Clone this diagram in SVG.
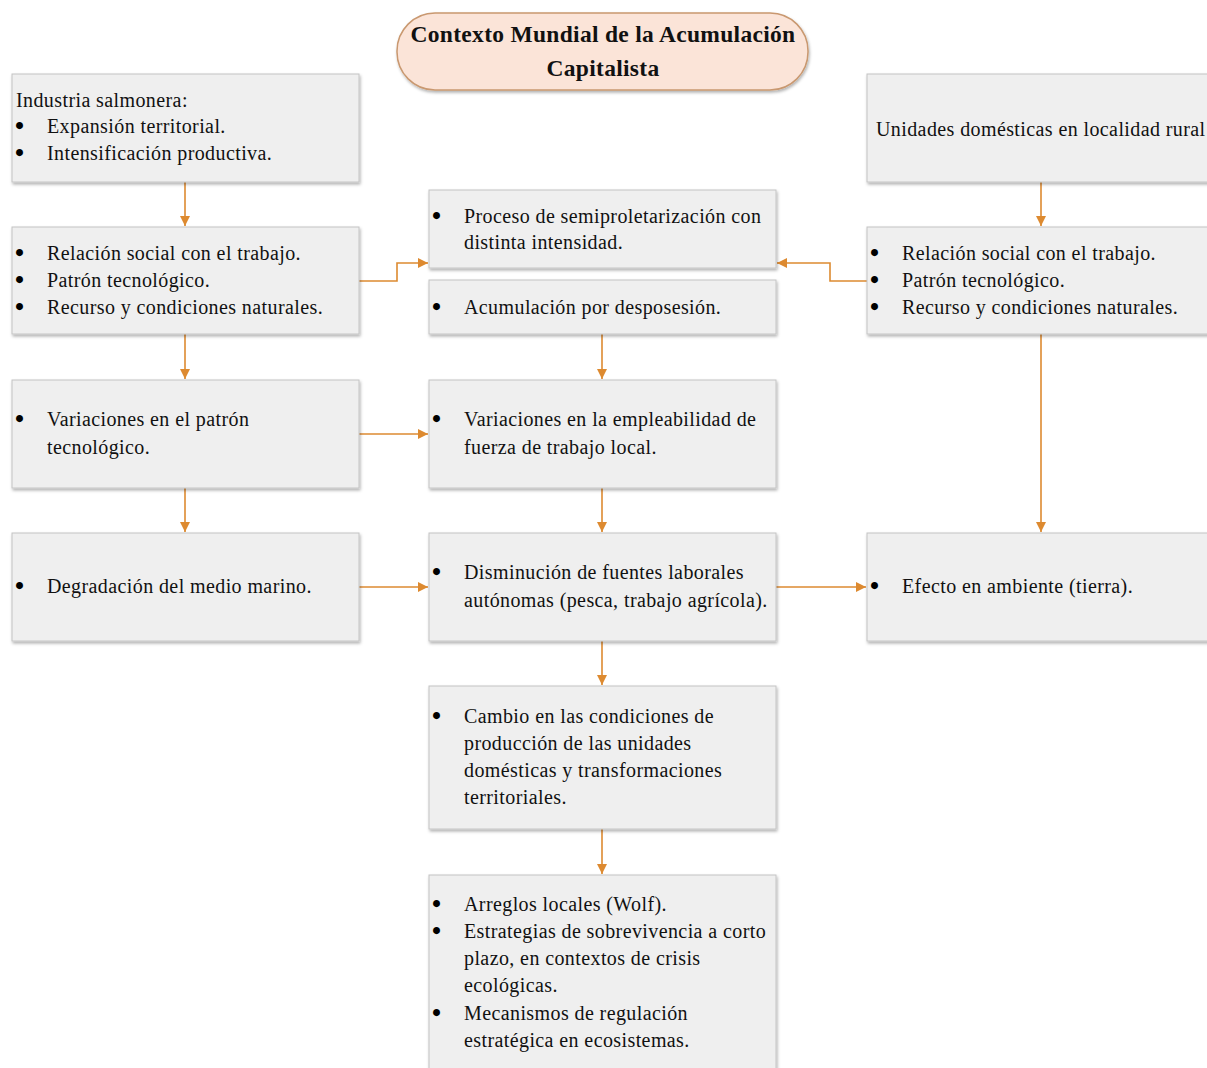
<svg xmlns="http://www.w3.org/2000/svg" width="1207" height="1068" viewBox="0 0 1207 1068">
<style>
.box{fill:#efefef;stroke:#c4c4c4;stroke-width:1;filter:url(#sh)}
.t{font-family:"Liberation Serif","Times New Roman",serif;font-size:20px;letter-spacing:0.4px;fill:#111}
.b{font-family:"Liberation Serif","Times New Roman",serif;font-size:20px;fill:#000;stroke:#000;stroke-width:2.2}
.title{font-family:"Liberation Serif","Times New Roman",serif;font-size:23.5px;letter-spacing:0.3px;font-weight:bold;fill:#111;text-anchor:middle}
.c{fill:none;stroke:#dd8a30;stroke-width:1.6}
</style>
<defs>
<filter id="sh" x="-5%" y="-5%" width="110%" height="115%">
<feDropShadow dx="1" dy="2" stdDeviation="1.5" flood-color="#000" flood-opacity="0.3"/>
</filter>
<marker id="ar" viewBox="0 0 10 10" refX="10" refY="5" markerWidth="10" markerHeight="10" markerUnits="userSpaceOnUse" orient="auto">
<path d="M0,0 L10,5 L0,10 z" fill="#dd8a30"/>
</marker>
</defs>
<rect width="1207" height="1068" fill="#ffffff"/>

<g id="connectors">
<line class="c" x1="185" y1="182" x2="185" y2="226" marker-end="url(#ar)"/>
<line class="c" x1="185" y1="334" x2="185" y2="379" marker-end="url(#ar)"/>
<line class="c" x1="185" y1="488" x2="185" y2="532" marker-end="url(#ar)"/>
<polyline class="c" points="359,281 397,281 397,263 428,263" marker-end="url(#ar)"/>
<polyline class="c" points="867,281 830,281 830,263 777,263" marker-end="url(#ar)"/>
<line class="c" x1="602" y1="334" x2="602" y2="379" marker-end="url(#ar)"/>
<line class="c" x1="359" y1="434" x2="428" y2="434" marker-end="url(#ar)"/>
<line class="c" x1="602" y1="488" x2="602" y2="532" marker-end="url(#ar)"/>
<line class="c" x1="359" y1="587" x2="428" y2="587" marker-end="url(#ar)"/>
<line class="c" x1="776" y1="587" x2="866" y2="587" marker-end="url(#ar)"/>
<line class="c" x1="1041" y1="182" x2="1041" y2="226" marker-end="url(#ar)"/>
<line class="c" x1="1041" y1="334" x2="1041" y2="532" marker-end="url(#ar)"/>
<line class="c" x1="602" y1="641" x2="602" y2="685" marker-end="url(#ar)"/>
<line class="c" x1="602" y1="829" x2="602" y2="874" marker-end="url(#ar)"/>
</g>

<g id="title">
<rect x="397" y="13" width="411" height="77" rx="38" ry="38" fill="#fbe4d8" stroke="#c9986f" stroke-width="1.5" filter="url(#sh)"/>
<text class="title" x="603" y="42">Contexto Mundial de la Acumulación</text>
<text class="title" x="603" y="76">Capitalista</text>
</g>

<g id="L1">
<rect class="box" x="12" y="74" width="347" height="108"/>
<text class="t" x="16" y="107">Industria salmonera:</text>
<text class="b" x="16" y="133">•</text><text class="t" x="47" y="133">Expansión territorial.</text>
<text class="b" x="16" y="160">•</text><text class="t" x="47" y="160">Intensificación productiva.</text>
</g>

<g id="L2">
<rect class="box" x="12" y="227" width="347" height="107"/>
<text class="b" x="16" y="260">•</text><text class="t" x="47" y="260">Relación social con el trabajo.</text>
<text class="b" x="16" y="287">•</text><text class="t" x="47" y="287">Patrón tecnológico.</text>
<text class="b" x="16" y="314">•</text><text class="t" x="47" y="314">Recurso y condiciones naturales.</text>
</g>

<g id="L3">
<rect class="box" x="12" y="380" width="347" height="108"/>
<text class="b" x="16" y="426">•</text><text class="t" x="47" y="426">Variaciones en el patrón</text>
<text class="t" x="47" y="454">tecnológico.</text>
</g>

<g id="L4">
<rect class="box" x="12" y="533" width="347" height="108"/>
<text class="b" x="16" y="593">•</text><text class="t" x="47" y="593">Degradación del medio marino.</text>
</g>

<g id="C1a">
<rect class="box" x="429" y="190" width="347" height="78"/>
<text class="b" x="433" y="223">•</text><text class="t" x="464" y="223">Proceso de semiproletarización con</text>
<text class="t" x="464" y="249">distinta intensidad.</text>
</g>

<g id="C1b">
<rect class="box" x="429" y="280" width="347" height="54"/>
<text class="b" x="433" y="314">•</text><text class="t" x="464" y="314">Acumulación por desposesión.</text>
</g>

<g id="C2">
<rect class="box" x="429" y="380" width="347" height="108"/>
<text class="b" x="433" y="426">•</text><text class="t" x="464" y="426">Variaciones en la empleabilidad de</text>
<text class="t" x="464" y="454">fuerza de trabajo local.</text>
</g>

<g id="C3">
<rect class="box" x="429" y="533" width="347" height="108"/>
<text class="b" x="433" y="579">•</text><text class="t" x="464" y="579">Disminución de fuentes laborales</text>
<text class="t" x="464" y="607">autónomas (pesca, trabajo agrícola).</text>
</g>

<g id="C4">
<rect class="box" x="429" y="686" width="347" height="143"/>
<text class="b" x="433" y="723">•</text><text class="t" x="464" y="723">Cambio en las condiciones de</text>
<text class="t" x="464" y="750">producción de las unidades</text>
<text class="t" x="464" y="777">domésticas y transformaciones</text>
<text class="t" x="464" y="804">territoriales.</text>
</g>

<g id="C5">
<rect class="box" x="429" y="875" width="347" height="200"/>
<text class="b" x="433" y="911">•</text><text class="t" x="464" y="911">Arreglos locales (Wolf).</text>
<text class="b" x="433" y="938">•</text><text class="t" x="464" y="938">Estrategias de sobrevivencia a corto</text>
<text class="t" x="464" y="965">plazo, en contextos de crisis</text>
<text class="t" x="464" y="992">ecológicas.</text>
<text class="b" x="433" y="1020">•</text><text class="t" x="464" y="1020">Mecanismos de regulación</text>
<text class="t" x="464" y="1047">estratégica en ecosistemas.</text>
</g>

<g id="R1">
<rect class="box" x="867" y="74" width="345" height="108"/>
<text class="t" x="876" y="136">Unidades domésticas en localidad rural</text>
</g>

<g id="R2">
<rect class="box" x="867" y="227" width="345" height="107"/>
<text class="b" x="871" y="260">•</text><text class="t" x="902" y="260">Relación social con el trabajo.</text>
<text class="b" x="871" y="287">•</text><text class="t" x="902" y="287">Patrón tecnológico.</text>
<text class="b" x="871" y="314">•</text><text class="t" x="902" y="314">Recurso y condiciones naturales.</text>
</g>

<g id="R3">
<rect class="box" x="867" y="533" width="345" height="108"/>
<text class="b" x="871" y="593">•</text><text class="t" x="902" y="593">Efecto en ambiente (tierra).</text>
</g>
</svg>
